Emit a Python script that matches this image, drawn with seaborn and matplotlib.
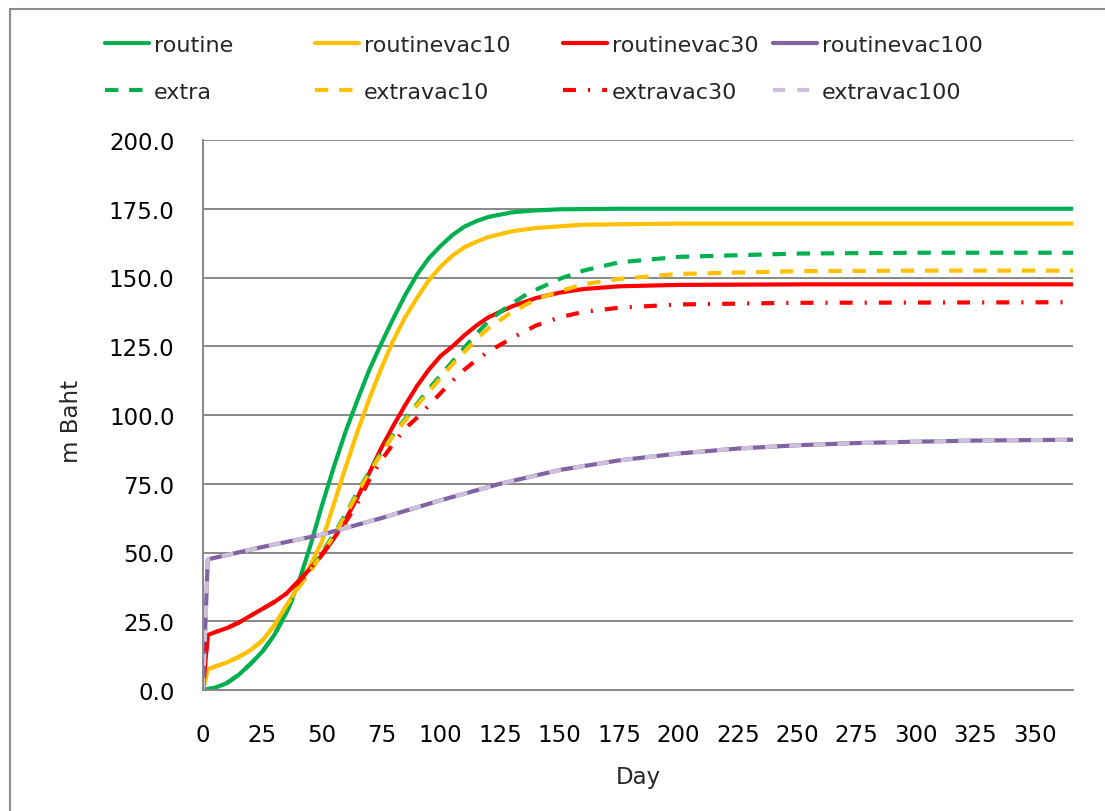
import seaborn as sns
import matplotlib.pyplot as plt
import pandas as pd
import numpy as np
from matplotlib.lines import Line2D

# (day, m Baht)
routine_day = [0, 5, 10, 15, 20, 25, 30, 35, 40, 45, 50, 55, 60, 65, 70, 75, 80, 85, 90, 95,
               100, 105, 110, 115, 120, 130, 140, 150, 175, 366]
routine_val = [0, 0.8, 2.5, 5.5, 9.5, 14, 20, 28, 38.5, 52, 67, 81, 94, 105.5, 116.5, 126, 135, 143.5, 151, 157,
               161.5, 165.5, 168.5, 170.5, 172, 173.7, 174.4, 174.8, 175, 175]

vac10_day = [0, 2, 5, 10, 15, 20, 25, 30, 35, 40, 45, 50, 55, 60, 65, 70, 75, 80, 85, 90, 95,
             100, 105, 110, 115, 120, 130, 140, 160, 200, 366]
vac10_val = [0, 7.5, 8.5, 10, 12, 14.5, 18, 23.5, 30.5, 37.5, 45, 54, 67.5, 81, 94, 106, 117, 127, 135.5, 142.5, 149,
             154, 158, 161, 163, 164.7, 166.8, 168, 169.2, 169.6, 169.6]

vac30_day = [0, 2, 5, 10, 15, 20, 25, 30, 35, 40, 45, 50, 55, 60, 65, 70, 75, 80, 85, 90, 95,
             100, 105, 110, 115, 120, 130, 140, 150, 160, 175, 200, 250, 366]
vac30_val = [0, 20, 21, 22.5, 24.5, 27, 29.5, 32, 35, 39.5, 44, 49, 55, 62, 70, 79, 88, 96, 103.5, 110.5, 116.5,
             121.5, 125, 129, 132.5, 135.5, 139.5, 142.5, 144.5, 145.8, 146.8, 147.3, 147.5, 147.5]

vac100_day = [0, 2, 25, 50, 75, 100, 125, 150, 175, 200, 225, 250, 275, 300, 325, 366]
vac100_val = [0, 47.5, 52, 56.5, 62.5, 69, 75, 80, 83.5, 86, 87.8, 89, 89.8, 90.3, 90.7, 91]

extra_day = [0, 5, 10, 15, 20, 25, 30, 35, 40, 45, 50, 55, 60, 65, 70, 75, 80, 85, 90, 95,
             100, 105, 110, 115, 120, 125, 130, 135, 140, 150, 160, 175, 200, 250, 300, 366]
extra_val = [0, 0.8, 2.5, 5.5, 9.5, 14, 20, 28, 37.5, 43, 50, 56.5, 64, 72, 79.5, 86.5, 93, 98.5, 104, 109.5,
             114.5, 119.5, 124.5, 129.5, 134, 137.5, 140.5, 143.3, 145.5, 149.5, 152.5, 155.5, 157.5, 158.7, 159, 159]

xvac10_day = [0, 2, 5, 10, 15, 20, 25, 30, 35, 40, 45, 50, 55, 60, 65, 70, 75, 80, 85, 90, 95,
              100, 105, 110, 115, 120, 125, 130, 140, 150, 160, 175, 200, 250, 300, 366]
xvac10_val = [0, 7.5, 8.5, 10, 12, 14.5, 18, 23.5, 30.5, 37, 43, 49.5, 56, 63.5, 71.5, 79, 86, 92.5, 98, 103.5, 108.5,
              113.5, 118.5, 123, 127.5, 131.5, 134.5, 137.5, 142, 145, 147.5, 149.5, 151.3, 152.3, 152.5, 152.5]

xvac30_day = [0, 2, 5, 10, 15, 20, 25, 30, 35, 40, 45, 50, 55, 60, 65, 70, 75, 80, 85, 90, 95,
              100, 105, 110, 115, 120, 125, 130, 140, 150, 160, 175, 200, 250, 366]
xvac30_val = [0, 20, 21, 22.5, 24.5, 27, 29.5, 32, 35, 39, 44, 49.5, 55, 61, 68, 76.5, 83.5, 89.5, 95, 99, 103.5,
              108, 112.5, 116.5, 120, 123, 125.5, 128, 132.5, 135.5, 137.5, 139, 140.2, 140.8, 141]

xvac100_day = vac100_day
xvac100_val = vac100_val

series = [
    ("routine", routine_day, routine_val, "#00B050", "-"),
    ("routinevac10", vac10_day, vac10_val, "#FFC000", "-"),
    ("routinevac30", vac30_day, vac30_val, "#FF0000", "-"),
    ("routinevac100", vac100_day, vac100_val, "#8064A2", "-"),
    ("extra", extra_day, extra_val, "#00B050", (0, (3.2, 2.6))),
    ("extravac10", xvac10_day, xvac10_val, "#FFC000", (0, (3.2, 2.6))),
    ("extravac30", xvac30_day, xvac30_val, "#FF0000", (0, (3.1, 2.9, 0.5, 2.9))),
    ("extravac100", xvac100_day, xvac100_val, "#CCC0DA", (0, (2.9, 2.9))),
]

sns.set_style("white")
plt.rcParams["font.family"] = ["DejaVu Sans"]

fig = plt.figure(figsize=(11.05, 8.12), dpi=100)
ax = fig.add_axes([203 / 1105, 121 / 812, 870 / 1105, 550 / 812])

grey = "#888888"
handles = []
for name, d, v, col, ls in series:
    df = pd.DataFrame({"Day": d, "val": v})
    sns.lineplot(data=df, x="Day", y="val", ax=ax, color=col, linestyle=ls, lw=3,
                 estimator=None, sort=False, label=name, legend=False)
    handles.append(ax.lines[-1])

ax.set_xlim(0, 366)
ax.set_ylim(0, 200)
ax.set_xticks(np.arange(0, 351, 25))
ax.set_yticks(np.arange(0, 201, 25))
ax.set_yticklabels([f"{t:.1f}" for t in np.arange(0, 201, 25)])

ax.yaxis.grid(True, color=grey, lw=1.4)
ax.xaxis.grid(False)
ax.set_axisbelow(True)
for s in ["top", "right"]:
    ax.spines[s].set_visible(False)
for s in ["left", "bottom"]:
    ax.spines[s].set_color(grey)
    ax.spines[s].set_linewidth(1.4)

ax.tick_params(axis="both", direction="out", length=8.5, width=1.3, color=grey, labelsize=16.5, labelcolor="black")
ax.tick_params(axis="y", pad=12)
ax.tick_params(axis="x", pad=15.5)

ax.set_xlabel("Day", fontsize=16.5)
ax.set_ylabel("m Baht", fontsize=16.5)
ax.xaxis.set_label_coords(0.5, -0.136)
ax.yaxis.set_label_coords(-0.138, 0.49)

# legend: four columns of two entries
col_x = [105, 315, 563, 773]
for i, x in enumerate(col_x):
    leg = fig.legend(handles=[handles[i], handles[i + 4]], loc="upper left",
                     bbox_to_anchor=(x / 1105, 1 - 36 / 812), frameon=False, fontsize=16,
                     handlelength=2.0, handletextpad=0.2, borderpad=0, borderaxespad=0,
                     labelspacing=1.22)

# outer chart border: only top and left edges fall inside the picture
fig.add_artist(Line2D([10 / 1105, 10 / 1105], [0, 1 - 10 / 812],
                      transform=fig.transFigure, color="#8c8c8c", lw=1.5))
fig.add_artist(Line2D([10 / 1105, 1], [1 - 10 / 812, 1 - 10 / 812],
                      transform=fig.transFigure, color="#8c8c8c", lw=1.5))

fig.savefig("out.png", dpi=100)
